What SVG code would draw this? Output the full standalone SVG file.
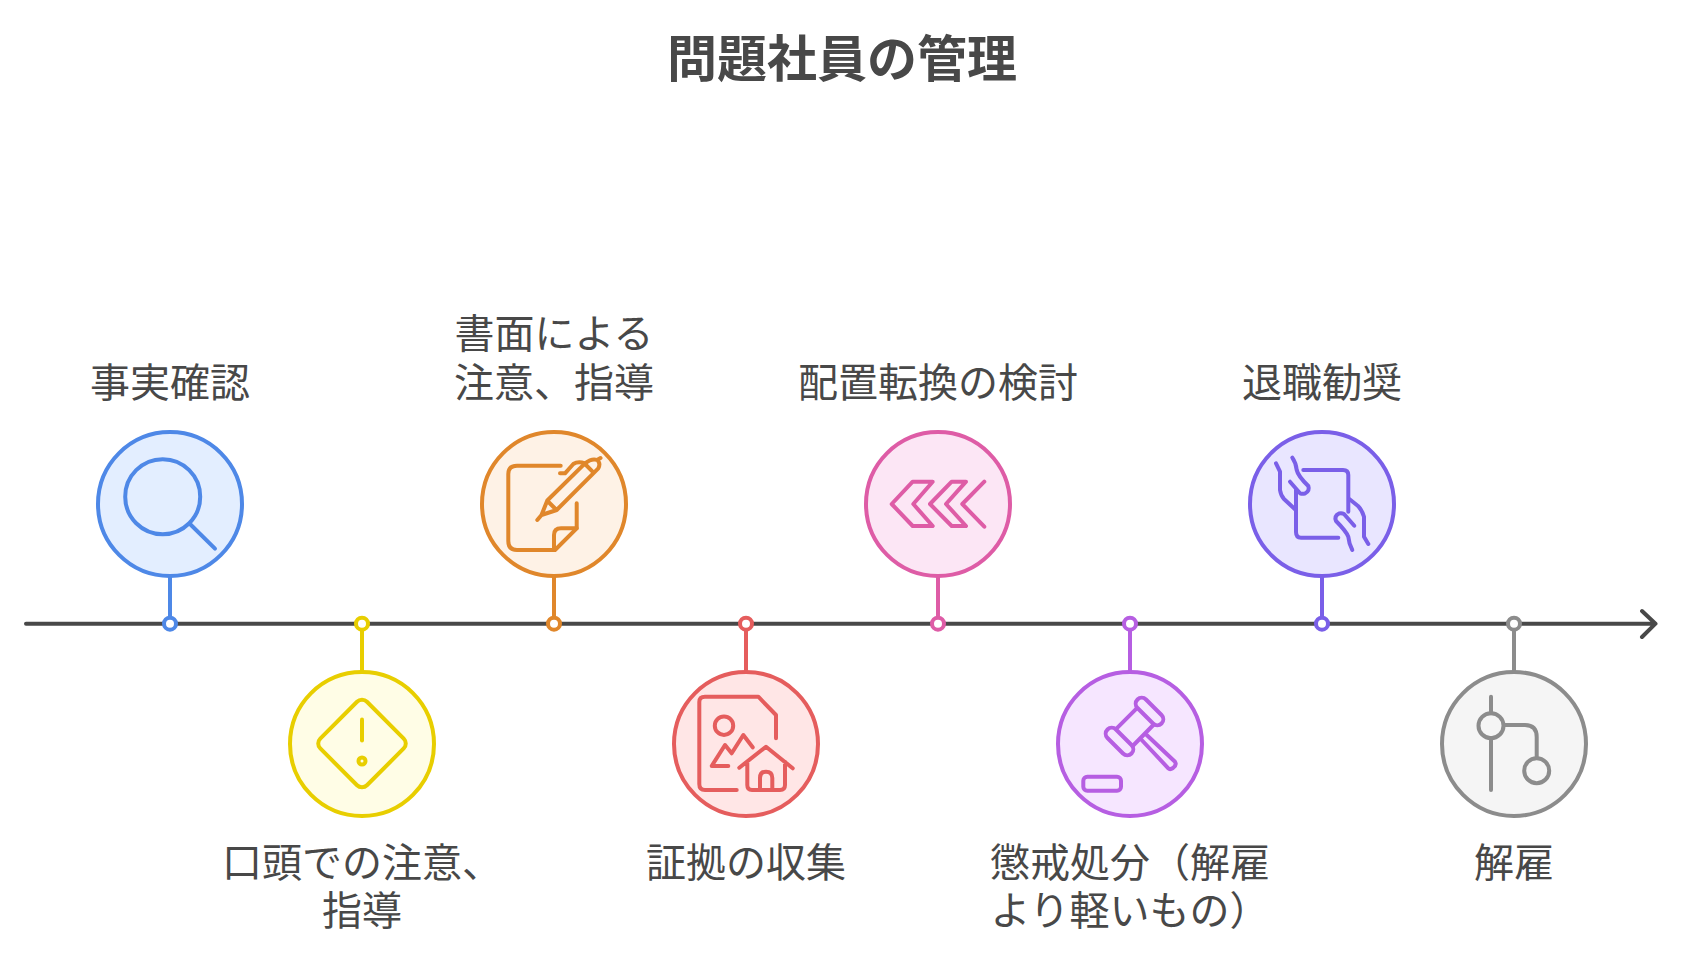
<svg xmlns="http://www.w3.org/2000/svg" width="1682" height="960" viewBox="0 0 1682 960">
<defs>
<style>
text{font-family:"Noto Sans CJK JP","Noto Sans CJK SC",sans-serif;fill:#484848;text-anchor:middle}
.t{font-size:50px;font-weight:700}
.l{font-size:40px;font-weight:400}
.i{fill:none;stroke-width:4;stroke-linecap:round;stroke-linejoin:round}
.d{fill:#fff;stroke-width:4}
.blue{stroke:#4e88e7}.yellow{stroke:#e8ce00}.orange{stroke:#e0872b}.red{stroke:#e55d5d}.pink{stroke:#de5ca6}.purple{stroke:#b65ee2}.violet{stroke:#7a5fe8}.gray{stroke:#8c8c8c}
</style>
</defs>
<rect width="1682" height="960" fill="#fff"/>
<text class="t" x="842" y="77">問題社員の管理</text>
<g id="connectors" fill="none" stroke-linecap="round" stroke-linejoin="round">
<path d="M26 623.7H1655M1642 611L1655.5 623.7L1642 637" stroke="#484848" stroke-width="4"/>
<path class="blue" stroke-width="4" d="M170 576V617"/>
<path class="yellow" stroke-width="4" d="M362 630V671"/>
<path class="orange" stroke-width="4" d="M554 576V617"/>
<path class="red" stroke-width="4" d="M746 630V671"/>
<path class="pink" stroke-width="4" d="M938 576V617"/>
<path class="purple" stroke-width="4" d="M1130 630V671"/>
<path class="violet" stroke-width="4" d="M1322 576V617"/>
<path class="gray" stroke-width="4" d="M1514 630V671"/>
</g>
<g id="node-1">
<circle class="d blue" cx="170" cy="623.7" r="6"/>
<circle class="blue" cx="170" cy="504" r="72" fill="#e3eeff" stroke-width="4"/>
<circle class="i blue" cx="162.7" cy="496.7" r="37.5"/>
<path class="i blue" d="M190 524L215 548.7"/>
<text class="l" x="170" y="396.5">事実確認</text>
</g>
<g id="node-2">
<circle class="d yellow" cx="362" cy="623.7" r="6"/>
<circle class="yellow" cx="362" cy="744" r="72" fill="#fffde6" stroke-width="4"/>
<rect class="i yellow" x="-33" y="-33" width="66" height="66" rx="7" transform="translate(362 743.5) rotate(45)"/>
<path class="i yellow" d="M362 719.5V740.5"/>
<circle class="i yellow" cx="362" cy="761" r="3.5"/>
<text class="l" x="362" y="877">口頭での注意、</text>
<text class="l" x="362" y="925">指導</text>
</g>
<g id="node-3">
<circle class="d orange" cx="554" cy="623.7" r="6"/>
<circle class="orange" cx="554" cy="504" r="72" fill="#fef2e6" stroke-width="4"/>
<path class="i orange" d="M560.7 465.7H517Q508.3 465.7 508.3 474V541Q508.3 550 517 550H555L576.7 528.3V503.3"/>
<path class="i orange" d="M576.7 528.3H561Q554 528.3 554 535V550"/>
<path class="i orange" d="M537.3 520L541.5 515L547.3 500.5L585 463.3Q592 458 597 460Q601 463 598.3 468.3L556.7 510L541.5 515M547.5 501L556.5 510M585 464L593.3 472.3M597 460L600.5 458"/>
<path class="i orange" d="M560 473.3H565L573.3 464Q578 461 585 463.3"/>
<text class="l" x="554" y="348">書面による</text>
<text class="l" x="554" y="396.5">注意、指導</text>
</g>
<g id="node-4">
<circle class="d red" cx="746" cy="623.7" r="6"/>
<circle class="red" cx="746" cy="744" r="72" fill="#ffe6e6" stroke-width="4"/>
<path class="i red" d="M736.7 790H705Q699.3 790 699.3 784V702Q699.3 696.7 705 696.7H758.3L776 715V738.3"/>
<circle class="i red" cx="724" cy="725.7" r="9.2"/>
<path class="i red" d="M728.3 766H711.7L725 745L731.7 753.3L743.3 735L752.7 747.3"/>
<path class="i red" d="M739.3 767.7L766 746.7L792.7 768.3M747.3 761.7V785Q747.3 790 752 790H780Q785 790 785 785V761.7M760 790V778Q760 771.7 766 771.7Q772.3 771.7 772.3 778V790"/>
<text class="l" x="746" y="877">証拠の収集</text>
</g>
<g id="node-5">
<circle class="d pink" cx="938" cy="623.7" r="6"/>
<circle class="pink" cx="938" cy="504" r="72" fill="#fce6f5" stroke-width="4"/>
<path class="i pink" d="M891.7 504L912.7 481.7H932.7L913.3 504L932.7 526H912.7Z"/>
<path class="i pink" d="M930 504L951.7 481.7H966L946 504L966 526H951.7Z"/>
<path class="i pink" d="M984.3 481.7L962.3 504L984.3 526.7"/>
<text class="l" x="938" y="396.5">配置転換の検討</text>
</g>
<g id="node-6">
<circle class="d purple" cx="1130" cy="623.7" r="6"/>
<circle class="purple" cx="1130" cy="744" r="72" fill="#f6e6ff" stroke-width="4"/>
<rect class="i purple" x="-17" y="-6" width="34" height="12" rx="6" transform="translate(1149.5 711.5) rotate(45)"/>
<rect class="i purple" x="-17" y="-6" width="34" height="12" rx="6" transform="translate(1119.5 741.5) rotate(45)"/>
<path class="i purple" d="M1116.7 728.3L1136.7 708.3M1132.7 746L1153.3 725"/>
<path class="i purple" d="M1146.7 735L1175 761.7Q1177 765 1173 768Q1170 770 1168.3 768.3L1141.7 740"/>
<rect class="i purple" x="1083.3" y="776.7" width="37.7" height="14" rx="4"/>
<text class="l" x="1130" y="877">懲戒処分（解雇</text>
<text class="l" x="1130" y="925">より軽いもの）</text>
</g>
<g id="node-7">
<circle class="d violet" cx="1322" cy="623.7" r="6"/>
<circle class="violet" cx="1322" cy="504" r="72" fill="#e9e6ff" stroke-width="4"/>
<path class="i violet" d="M1303.3 470H1343Q1348.3 470 1348.3 475V511.7M1338.3 537.7H1301Q1296 537.7 1296 532V490"/>
<path class="i violet" d="M1276 463.3L1280 471.7V490Q1281 496 1284 499L1295 509.3"/>
<path class="i violet" d="M1292.3 457.7Q1296 463 1296.7 470Q1298 476 1308.3 486Q1310 491 1305 493.5Q1302 494 1300 493.3L1290 481.7"/>
<path class="i violet" d="M1368.3 544L1364 536.7V516.7Q1362 510 1358 506L1349.3 499"/>
<path class="i violet" d="M1352.3 550Q1349 544 1348.3 536.7Q1346 531 1336 521Q1334 516 1339 513.5Q1342 513 1344 514L1354.3 525.7"/>
<text class="l" x="1322" y="396.5">退職勧奨</text>
</g>
<g id="node-8">
<circle class="d gray" cx="1514" cy="623.7" r="6"/>
<circle class="gray" cx="1514" cy="744" r="72" fill="#f5f5f5" stroke-width="4"/>
<path class="i gray" d="M1491 696.7V713.3M1491 738V790"/>
<circle class="i gray" cx="1491" cy="725.7" r="12.5"/>
<path class="i gray" d="M1504 725H1525Q1536.7 725 1536.7 737V757.3"/>
<circle class="i gray" cx="1536.7" cy="770.7" r="12.5"/>
<text class="l" x="1514" y="877">解雇</text>
</g>
</svg>
